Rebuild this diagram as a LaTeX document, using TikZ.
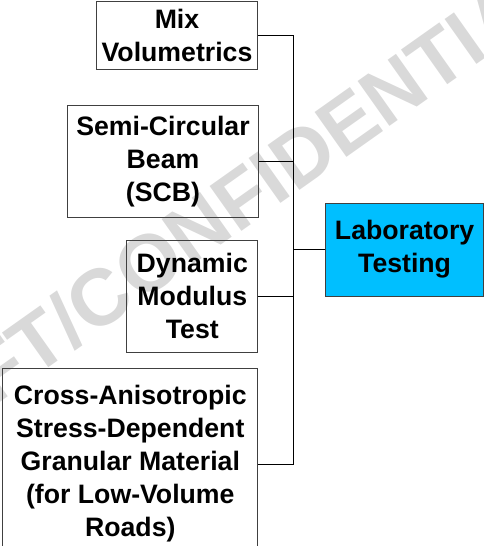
\documentclass[tikz,border=0pt]{standalone}
\usepackage{fontspec}
\setmainfont{Liberation Sans}
\usepackage{tikz}
\usetikzlibrary{positioning}

\definecolor{labblue}{RGB}{0,191,255}
\definecolor{boxgray}{RGB}{64,64,64}
\definecolor{wmgray}{RGB}{217,217,217}

\tikzset{
  box/.style={draw=boxgray, line width=0.75pt, align=center, inner sep=0pt,
    font=\bfseries\fontsize{20}{24.75}\selectfont},
  link/.style={draw=black, line width=0.75pt},
  watermark/.style={text=wmgray, rotate=35.3, inner sep=0pt,
    font=\bfseries\fontsize{60}{60}\selectfont}
}

\begin{document}
\begin{tikzpicture}[x=0.75pt, y=-0.75pt]
\clip (0,0) rectangle (484,546);
\node[watermark] (wm) at (199,227) {DRAFT/CONFIDENTIAL};

\node[box, minimum width=121pt, minimum height=51pt] (mix) at (177,35) {Mix\\Volumetrics};
\node[box, minimum width=142.7pt, minimum height=83.5pt] (scb) at (163,161.4) {Semi-Circular\\Beam\\(SCB)};
\node[box, minimum width=98.5pt, minimum height=84pt] (dyn) at (192.3,296) {Dynamic\\Modulus\\Test};
\node[box, minimum width=191.5pt, minimum height=144pt] (cross) at (130.3,464) {Cross-Anisotropic\\Stress-Dependent\\Granular Material\\(for Low-Volume\\Roads)};
\node[box, fill=labblue, minimum width=118.4pt, minimum height=69.75pt] (lab) at (404.6,249.5) {Laboratory\\Testing};

\coordinate (bus) at (293.3,0);
\draw[link] (mix.east) -- (mix.east -| bus) -- (cross.east -| bus) -- (cross.east);
\draw[link] (scb.east) -- (scb.east -| bus);
\draw[link] (dyn.east) -- (dyn.east -| bus);
\draw[link] (lab.west) -- (lab.west -| bus);
\end{tikzpicture}
\end{document}
